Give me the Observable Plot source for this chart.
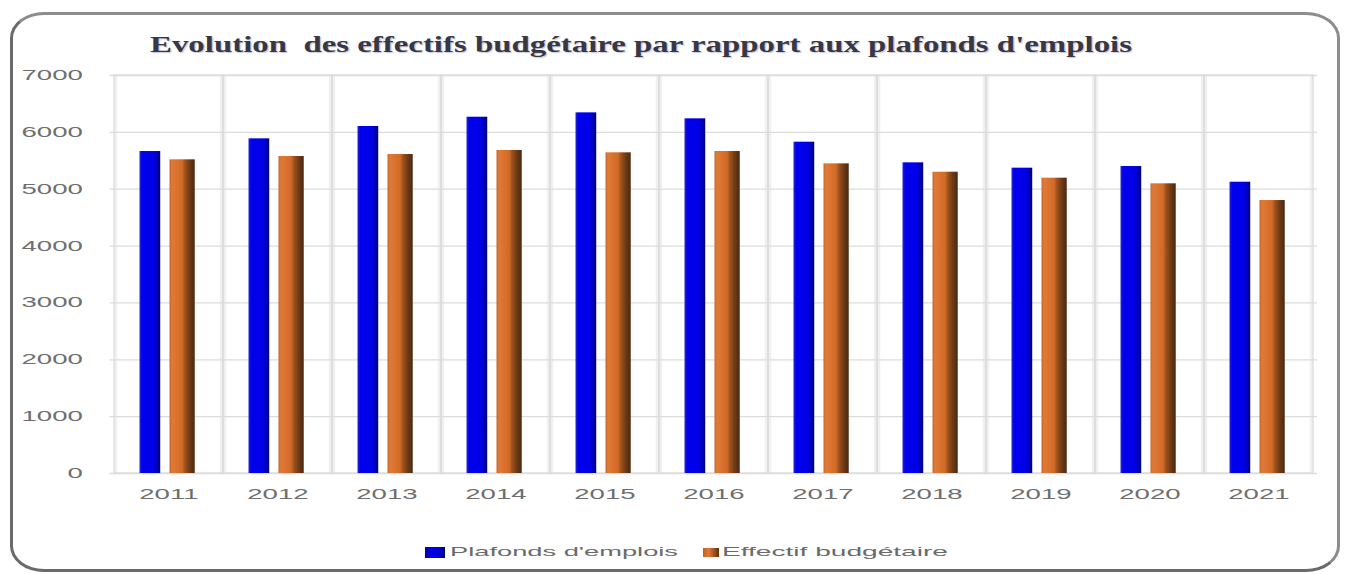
<!DOCTYPE html>
<html><head><meta charset="utf-8">
<script src="https://cdn.jsdelivr.net/npm/d3@7"></script>
<script src="https://cdn.jsdelivr.net/npm/@observablehq/plot@0.6"></script>
<style>
html,body{margin:0;padding:0;background:#fff;}
body{width:1345px;height:574px;overflow:hidden;position:relative;font-family:"Liberation Sans",Arial,sans-serif;}
#frame{position:absolute;left:10px;top:12px;width:1330px;height:560px;box-sizing:border-box;border:3px solid #8c8c8c;border-left-color:#6a6a6a;border-bottom-color:#6a6a6a;border-radius:34px/26px;}
#title{position:absolute;left:150px;top:32px;white-space:pre;font-family:"Liberation Serif","Times New Roman",serif;font-weight:bold;font-size:24px;line-height:24px;color:#383844;text-shadow:1px 1px 1px rgba(90,90,150,0.35);transform-origin:0 0;}
#chart{position:absolute;left:0;top:60px;}
.lg-sw{position:absolute;}
.lg-tx{position:absolute;white-space:pre;font-size:13px;line-height:13px;color:#6a6a6a;transform-origin:0 0;}
</style></head>
<body>
<div id="frame"></div>
<div id="title"></div>
<div id="chart"></div>
<div id="legend"></div>
<script>
const titleText = "Evolution  des effectifs budgétaire par rapport aux plafonds d'emplois";
const years = ["2011","2012","2013","2014","2015","2016","2017","2018","2019","2020","2021"];
const plafonds = [5663,5886,6103,6266,6343,6238,5827,5464,5370,5399,5123];
const effectif = [5517,5575,5610,5681,5640,5663,5446,5299,5194,5095,4801];
const seriesNames = ["Plafonds d'emplois","Effectif budgétaire"];
const yTicks = [0,1000,2000,3000,4000,5000,6000,7000];

const W = 1345, H = 470, mL = 109.5, mR = 28;
const bw = (W - mL - mR) / years.length;

const rowsP = years.map((y,i)=>({year:y, value:plafonds[i]}));
const rowsE = years.map((y,i)=>({year:y, value:effectif[i]}));

const chart = Plot.plot({
  width: W, height: H,
  marginTop: 15, marginBottom: 57, marginLeft: mL, marginRight: mR,
  style: {fontFamily: "'Liberation Sans', Arial, sans-serif", fontSize: "14px", color: "#6e6e6e", background: "transparent"},
  x: {domain: years, padding: 0, tickSize: 0, tickPadding: 16, label: null},
  y: {domain: [0, 7000], ticks: yTicks, tickSize: 0, tickPadding: 27, label: null, tickFormat: d => String(d)},
  marks: [
    Plot.barY(years, {x: d => d, y1: 0, y2: 7000, fill: "#f0f0f0", insetRight: bw - 4}),
    Plot.barY(years, {x: d => d, y1: 0, y2: 7000, fill: "#f0f0f0", insetLeft: bw - 4}),
    Plot.gridY(yTicks, {stroke: "#dcdcdc", strokeOpacity: 1, strokeWidth: 1.3}),
    Plot.barY(years, {x: d => d, y1: 0, y2: 7000, fill: "none", stroke: "#dcdcdc", strokeWidth: 1.3}),
    Plot.barY(rowsP, {x: "year", y: "value", fill: "url(#gBlue)", insetLeft: 25.5, insetRight: bw - 47}),
    Plot.barY(rowsE, {x: "year", y: "value", fill: "url(#gOrange)", insetLeft: 55.5, insetRight: bw - 81.5})
  ]
});
document.getElementById("chart").appendChild(chart);

// gradients
const svg = d3.select(chart);
const defs = svg.insert("defs", ":first-child");
function grad(id, stops){
  const g = defs.append("linearGradient").attr("id", id).attr("x1",0).attr("x2",1).attr("y1",0).attr("y2",0);
  stops.forEach(([o,c]) => g.append("stop").attr("offset", o).attr("stop-color", c));
}
grad("gBlue", [[0,"#2a2ad0"],[0.12,"#0000ee"],[0.7,"#0000e6"],[0.88,"#0000b0"],[1,"#00006a"]]);
grad("gOrange", [[0,"#c66630"],[0.1,"#e07a36"],[0.5,"#d06a26"],[0.62,"#9c501e"],[0.8,"#6e3b16"],[1,"#4a2810"]]);

// horizontally stretched tick labels (scale around each label's anchor)
svg.selectAll('g[aria-label="y-axis tick label"] text, g[aria-label="x-axis tick label"] text').each(function(){
  const bb = this.getBBox();
  const anchor = getComputedStyle(this).textAnchor || this.getAttribute("text-anchor") || "middle";
  const ax = anchor === "end" ? bb.x + bb.width : anchor === "start" ? bb.x : bb.x + bb.width / 2;
  const t = this.getAttribute("transform") || "";
  this.setAttribute("transform", `${t} translate(${ax},0) scale(1.97,1) translate(${-ax},0)`);
});

// title
const title = document.getElementById("title");
title.textContent = titleText;
const tw = title.getBoundingClientRect().width;
title.style.transform = `scaleX(${982 / tw})`;

// legend
const legend = document.getElementById("legend");
const lgSpec = [
  {name: seriesNames[0], sw: [425, 547, 20, 11], bg: "linear-gradient(90deg,#0000a0,#0000ee 30%,#0000d0 75%,#000070)", tx: [450, 545, 228]},
  {name: seriesNames[1], sw: [703, 548, 16, 9], bg: "linear-gradient(90deg,#c06020,#e07a36 35%,#a05020 70%,#5a3010)", tx: [722, 545, 226]}
];
lgSpec.forEach(s => {
  const sw = document.createElement("div");
  sw.className = "lg-sw";
  Object.assign(sw.style, {left: s.sw[0]+"px", top: s.sw[1]+"px", width: s.sw[2]+"px", height: s.sw[3]+"px", background: s.bg});
  legend.appendChild(sw);
  const tx = document.createElement("div");
  tx.className = "lg-tx";
  tx.textContent = s.name;
  Object.assign(tx.style, {left: s.tx[0]+"px", top: s.tx[1]+"px"});
  legend.appendChild(tx);
  const w = tx.getBoundingClientRect().width;
  tx.style.transform = `scaleX(${s.tx[2] / w})`;
});
</script>
</body></html>
